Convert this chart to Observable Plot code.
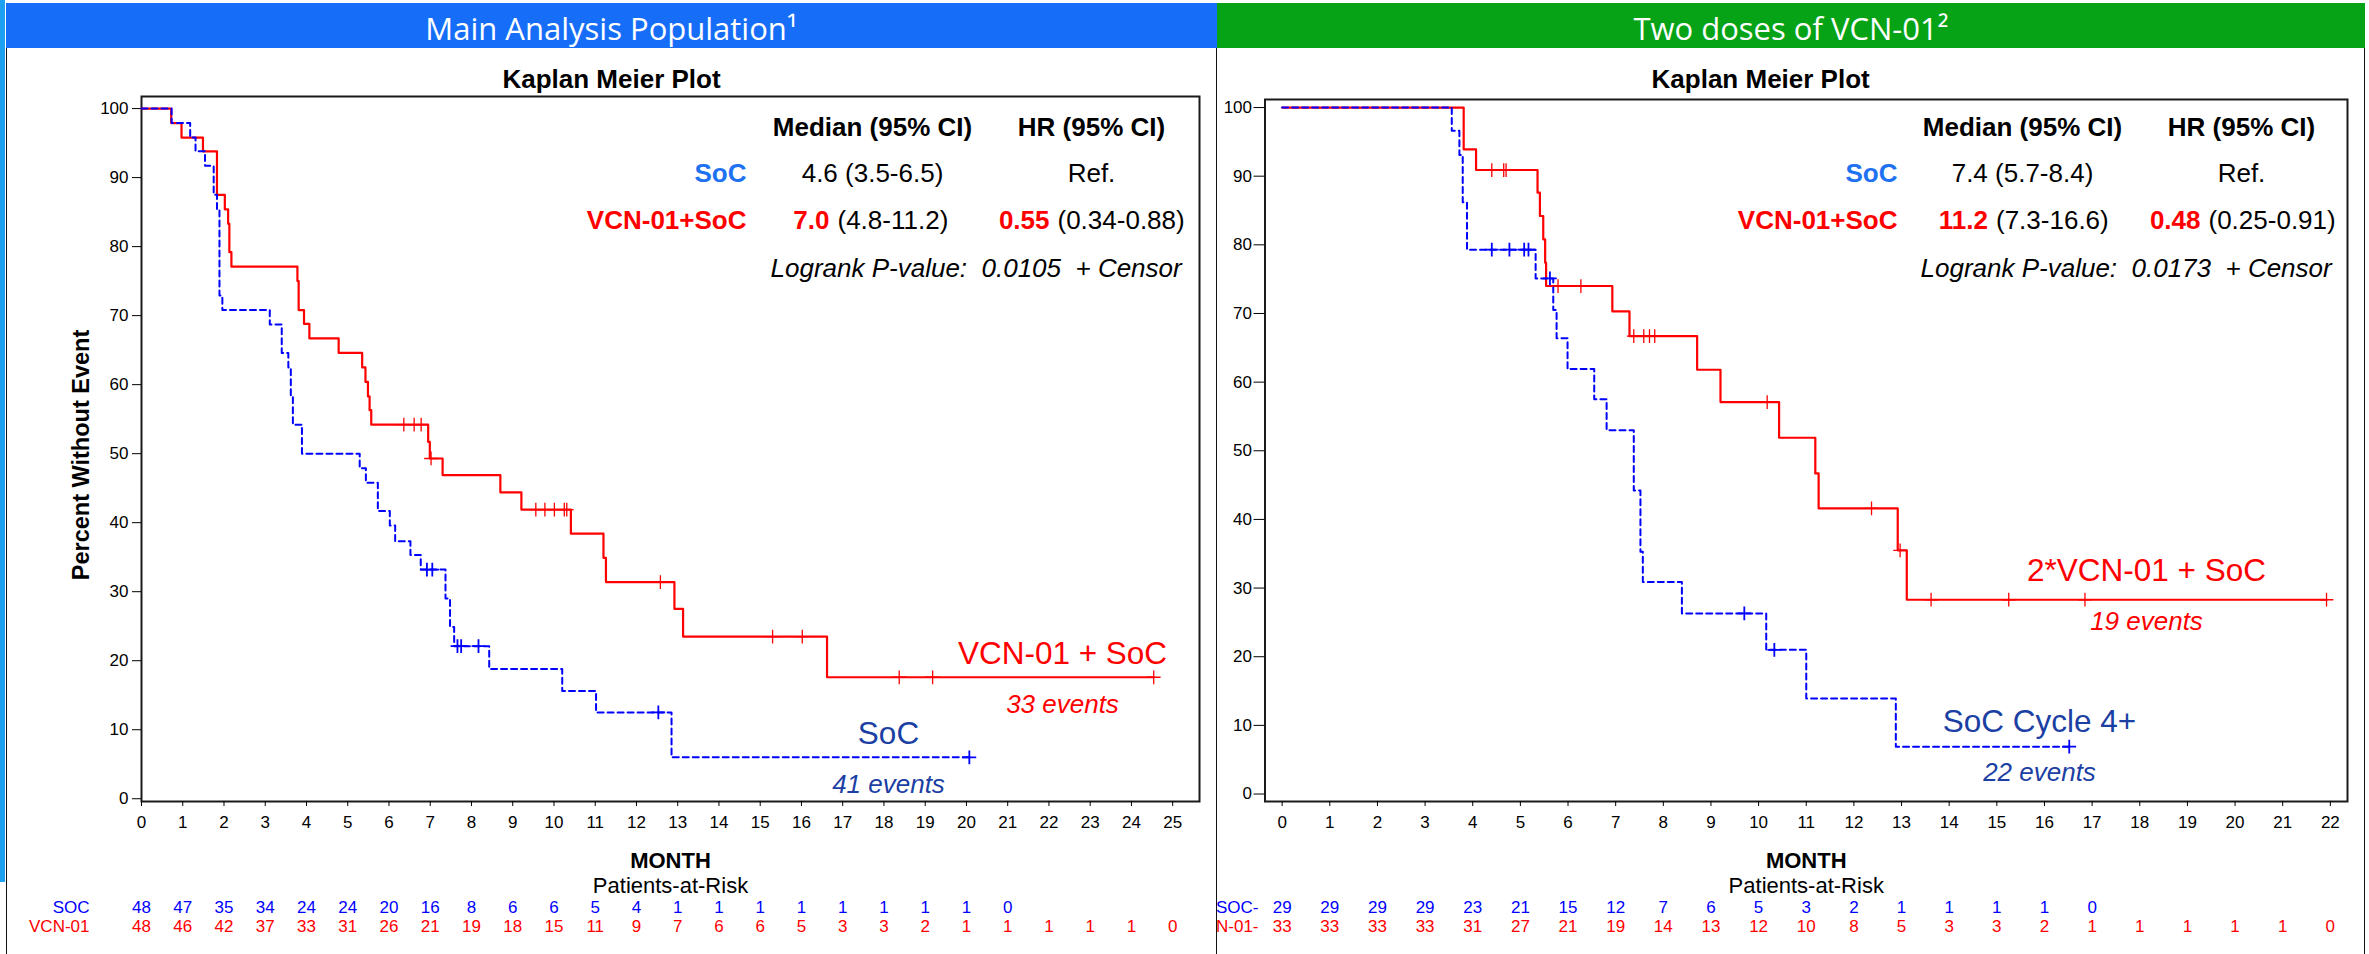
<!DOCTYPE html>
<html>
<head>
<meta charset="utf-8">
<script src="https://cdn.jsdelivr.net/npm/d3@7"></script>
<script src="https://cdn.jsdelivr.net/npm/@observablehq/plot@0.6"></script>
<style>
  html, body { margin: 0; padding: 0; background: #fff; }
  body { position: relative; width: 2369px; height: 954px; overflow: hidden; font-family: "Liberation Sans", Arial, sans-serif; }
  .hdr { position: absolute; top: 3px; height: 45px; color: #fff; font-family: "Open Sans", "Liberation Sans", sans-serif; font-size: 31px; text-align: center; line-height: 51px; overflow: hidden; white-space: nowrap; }
  .panel { position: absolute; top: 48px; height: 906px; }
  .vline { position: absolute; background: #111; width: 1px; z-index: 5; }
</style>
</head>
<body>
<div style="position:absolute;left:0;top:0;width:5px;height:882px;background:#1d9ff2;"></div>
<div class="hdr" id="hdrL" style="left:6px;width:1211px;background:#166ef8;"></div>
<div class="hdr" id="hdrR" style="left:1217px;width:1148px;background:#06a316;"></div>
<div class="panel" id="panelL" style="left:0;width:1216px;"></div>
<div class="panel" id="panelR" style="left:1216px;width:1153px;"></div>
<div class="vline" style="left:6px;top:48px;height:906px;"></div>
<div class="vline" style="left:1216px;top:48px;height:906px;"></div>
<div class="vline" style="left:2364px;top:48px;height:906px;"></div>
<script>
// ---------------- DATA ----------------
const headerLeft = "Main Analysis Population\u00b9";
const headerRight = "Two doses of VCN-01\u00b2";
const plotTitle = "Kaplan Meier Plot";
const yAxisTitle = "Percent Without Event";
const xAxisTitle = "MONTH";
const riskTitle = "Patients-at-Risk";

const yTicks = [0, 10, 20, 30, 40, 50, 60, 70, 80, 90, 100];
const xTicksL = [0,1,2,3,4,5,6,7,8,9,10,11,12,13,14,15,16,17,18,19,20,21,22,23,24,25];
const xTicksR = [0,1,2,3,4,5,6,7,8,9,10,11,12,13,14,15,16,17,18,19,20,21,22];

// Main analysis population: SoC (event times in months, survival % after event, censor times)
const socTimesL = [0.73,1.18,1.31,1.54,1.75,1.83,1.89,1.96,3.11,3.40,3.56,3.62,3.67,3.89,5.29,5.44,5.73,6.02,6.15,6.52,6.77,7.37,7.48,7.58,8.43,10.20,11.02,12.85];
const socSurvL  = [97.9,95.8,93.8,91.7,87.5,85.4,72.9,70.8,68.7,64.6,62.5,58.3,54.2,50.0,47.9,45.8,41.7,39.6,37.3,35.3,33.2,29.0,24.9,22.1,18.8,15.6,12.5,6.0];
const socCensL  = [6.92,7.05,7.66,7.75,8.17,12.53,20.07];
// Main analysis population: VCN-01 + SoC
const vcnTimesL = [0.72,0.97,1.49,1.83,2.02,2.10,2.13,2.18,3.78,3.81,3.94,4.07,4.78,5.35,5.43,5.49,5.53,5.57,6.95,6.99,7.30,8.70,9.21,10.41,11.20,11.26,12.92,13.13,16.62];
const vcnSurvL  = [97.9,95.8,93.8,87.5,85.4,83.3,79.2,77.1,75.0,70.8,68.8,66.7,64.6,62.5,60.4,58.3,56.3,54.2,51.7,49.3,46.9,44.4,41.9,38.4,34.9,31.4,27.5,23.5,17.6];
const vcnCensL  = [6.36,6.61,6.78,7.02,9.56,9.78,10.01,10.25,10.31,12.58,15.30,16.02,18.37,19.18,24.54];

// Two doses: SoC Cycle 4+
const socTimesR = [3.56,3.72,3.79,3.88,5.32,5.69,5.76,5.99,6.55,6.81,7.38,7.52,7.57,8.39,10.16,11.00,12.88];
const socSurvR  = [96.6,93.1,86.2,79.3,75.1,70.5,66.4,61.9,57.5,53.0,44.2,35.3,30.9,26.3,21.0,13.9,6.9];
const socCensR  = [4.40,4.77,5.08,5.17,5.62,9.70,10.33,16.52];
// Two doses: 2*VCN-01 + SoC
const vcnTimesR = [3.81,4.07,5.36,5.41,5.48,5.52,5.54,6.93,7.29,8.71,9.20,10.43,11.19,11.26,12.92,13.11];
const vcnSurvR  = [93.9,90.9,87.6,84.2,80.8,77.4,74.0,70.3,66.7,61.8,57.1,51.9,46.7,41.6,35.5,28.3];
const vcnCensR  = [4.40,4.65,4.70,5.79,6.27,7.38,7.59,7.71,7.82,10.18,12.37,12.97,13.62,15.25,16.85,21.92];

// Patients at risk (index = month)
const riskSocL = [48,47,35,34,24,24,20,16,8,6,6,5,4,1,1,1,1,1,1,1,1,0];
const riskVcnL = [48,46,42,37,33,31,26,21,19,18,15,11,9,7,6,6,5,3,3,2,1,1,1,1,1,0];
const riskSocR = [29,29,29,29,23,21,15,12,7,6,5,3,2,1,1,1,1,0];
const riskVcnR = [33,33,33,33,31,27,21,19,14,13,12,10,8,5,3,3,2,1,1,1,1,1,0];
const riskLabelsL = ["SOC", "VCN-01"];
const riskLabelsR = ["SOC-", "VCN-01-"];

// Summary tables
const tableHeaders = ["Median (95% CI)", "HR (95% CI)"];
const groupNames = ["SoC", "VCN-01+SoC"];
const medianSocL = "4.6 (3.5-6.5)", medianVcnL = ["7.0", "(4.8-11.2)"], hrVcnL = ["0.55", "(0.34-0.88)"];
const medianSocR = "7.4 (5.7-8.4)", medianVcnR = ["11.2", "(7.3-16.6)"], hrVcnR = ["0.48", "(0.25-0.91)"];
const hrRef = "Ref.";
const pValueL = "0.0105", pValueR = "0.0173";
const lineLabelsL = ["VCN-01 + SoC", "33 events", "SoC", "41 events"];
const lineLabelsR = ["2*VCN-01 + SoC", "19 events", "SoC Cycle 4+", "22 events"];

// ---------------- STYLE ----------------
const RED = "#ff0000", BLUE = "#0000ff", TBLUE = "#1e72f2", NAVY = "#1b3fa3";
const FONT = "'Liberation Sans', Arial, Helvetica, sans-serif";

document.getElementById("hdrL").textContent = headerLeft;
document.getElementById("hdrR").textContent = headerRight;

function steps(times, surv, cens) {
  const pts = [{t: 0, s: 100}];
  times.forEach((t, i) => pts.push({t, s: surv[i]}));
  pts.push({t: d3.max(cens), s: surv[surv.length - 1]});
  return pts;
}
function censorPts(times, surv, cens) {
  return cens.map(c => {
    let s = 100;
    times.forEach((t, i) => { if (t <= c) s = surv[i]; });
    return {t: c, s};
  });
}
const txt = (str, dx, dy, o = {}) =>
  Plot.text([str], {text: d => d, frameAnchor: "top-left", lineAnchor: "middle", dx, dy, fontSize: 26, fill: "#000", ...o});

function kmPlot(o) {
  const marks = [
    Plot.frame({stroke: "#1a1a1a", strokeWidth: 2}),
    Plot.axisY({ticks: yTicks, tickSize: o.yTickSize, tickPadding: o.yTickPadding, fontSize: 17, label: null}),
    Plot.axisX({ticks: o.xTicks, tickSize: 5, tickPadding: 9, fontSize: 17, label: null, tickFormat: d => String(d)}),
    Plot.line(steps(o.vcn[0], o.vcn[1], o.vcn[2]), {x: "t", y: "s", curve: "step-after", stroke: RED, strokeWidth: 2.2}),
    Plot.line(steps(o.soc[0], o.soc[1], o.soc[2]), {x: "t", y: "s", curve: "step-after", stroke: BLUE, strokeWidth: 2, strokeDasharray: "6,4"}),
    Plot.dot(censorPts(o.vcn[0], o.vcn[1], o.vcn[2]), {x: "t", y: "s", symbol: "plus", r: 4.5, stroke: RED, strokeWidth: 1.3}),
    Plot.dot(censorPts(o.soc[0], o.soc[1], o.soc[2]), {x: "t", y: "s", symbol: "plus", r: 4.5, stroke: BLUE, strokeWidth: 1.8}),
    // titles
    Plot.text([plotTitle], {text: d => d, frameAnchor: "top", lineAnchor: "middle", dx: o.titleDx, dy: o.titleDy, fontSize: 26, fontWeight: "bold"}),
    Plot.text([xAxisTitle], {text: d => d, frameAnchor: "bottom", lineAnchor: "middle", dy: 59, fontSize: 22, fontWeight: "bold"}),
    Plot.text([riskTitle], {text: d => d, frameAnchor: "bottom", lineAnchor: "middle", dy: 84, fontSize: 22}),
    // risk table
    Plot.text(o.riskSoc.map((n, i) => ({m: i, n})), {x: "m", text: d => String(d.n), frameAnchor: "bottom", lineAnchor: "middle", dy: 106, fontSize: 17, fill: BLUE}),
    Plot.text(o.riskVcn.map((n, i) => ({m: i, n})), {x: "m", text: d => String(d.n), frameAnchor: "bottom", lineAnchor: "middle", dy: 125, fontSize: 17, fill: RED}),
    Plot.text([o.riskLabels[0]], {text: d => d, frameAnchor: "bottom-left", lineAnchor: "middle", dx: o.riskLabelDx, dy: 106, textAnchor: "end", fontSize: 17, fill: BLUE}),
    Plot.text([o.riskLabels[1]], {text: d => d, frameAnchor: "bottom-left", lineAnchor: "middle", dx: o.riskLabelDx, dy: 125, textAnchor: "end", fontSize: 17, fill: RED}),
    // summary table
    txt(tableHeaders[0], o.tb.c1, o.tb.r0, {textAnchor: "middle", fontWeight: "bold"}),
    txt(tableHeaders[1], o.tb.c2, o.tb.r0, {textAnchor: "middle", fontWeight: "bold"}),
    txt(groupNames[0], o.tb.nameEnd, o.tb.r1, {textAnchor: "end", fontWeight: "bold", fill: TBLUE}),
    txt(o.medSoc, o.tb.c1, o.tb.r1, {textAnchor: "middle"}),
    txt(hrRef, o.tb.c2, o.tb.r1, {textAnchor: "middle"}),
    txt(groupNames[1], o.tb.nameEnd, o.tb.r2, {textAnchor: "end", fontWeight: "bold", fill: RED}),
    txt(o.medVcn[0], o.tb.medSplit, o.tb.r2, {textAnchor: "end", fontWeight: "bold", fill: RED}),
    txt(o.medVcn[1], o.tb.medSplit + 8, o.tb.r2, {textAnchor: "start"}),
    txt(o.hrVcn[0], o.tb.hrSplit, o.tb.r2, {textAnchor: "end", fontWeight: "bold", fill: RED}),
    txt(o.hrVcn[1], o.tb.hrSplit + 8, o.tb.r2, {textAnchor: "start"}),
    txt("Logrank P-value:\u00a0\u00a0" + o.pval + "\u00a0\u00a0+ Censor", o.tb.pStart, o.tb.r3, {textAnchor: "start", fontStyle: "italic"}),
    // curve labels
    txt(o.lineLabels[0], o.ll.vx, o.ll.vy, {textAnchor: "middle", fontSize: 31.5, fill: RED}),
    txt(o.lineLabels[1], o.ll.vx, o.ll.vy + 51, {textAnchor: "middle", fontStyle: "italic", fill: RED}),
    txt(o.lineLabels[2], o.ll.sx, o.ll.sy, {textAnchor: "middle", fontSize: 31.5, fill: NAVY}),
    txt(o.lineLabels[3], o.ll.sx, o.ll.sy + 51, {textAnchor: "middle", fontStyle: "italic", fill: NAVY})
  ];
  if (o.yTitle) marks.push(Plot.text([yAxisTitle], {text: d => d, frameAnchor: "left", textAnchor: "middle", lineAnchor: "middle", rotate: -90, dx: -60, dy: 6, fontSize: 23.5, fontWeight: "bold"}));
  return Plot.plot({
    width: o.width, height: 906,
    marginLeft: o.ml, marginRight: o.mr, marginTop: o.mt, marginBottom: 153,
    x: {domain: o.xDomain},
    y: {domain: o.yDomain},
    style: {fontFamily: FONT, fontSize: "17px", overflow: "hidden", background: "transparent", color: "#000"},
    marks
  });
}

document.getElementById("panelL").append(kmPlot({
  width: 1216, ml: 141, mr: 17, mt: 48,
  xDomain: [0, 25.65], yDomain: [-0.4, 101.75],
  xTicks: xTicksL, yTickSize: 9, yTickPadding: 4,
  soc: [socTimesL, socSurvL, socCensL], vcn: [vcnTimesL, vcnSurvL, vcnCensL],
  riskSoc: riskSocL, riskVcn: riskVcnL, riskLabels: riskLabelsL, riskLabelDx: -52,
  titleDx: -59, titleDy: -17, yTitle: true,
  medSoc: medianSocL, medVcn: medianVcnL, hrVcn: hrVcnL, pval: pValueL,
  tb: {c1: 731, c2: 950, nameEnd: 605, medSplit: 688, hrSplit: 908, pStart: 629, r0: 30.7, r1: 77, r2: 124, r3: 172},
  lineLabels: lineLabelsL, ll: {vx: 921, vy: 557, sx: 747, sy: 637}
}));

document.getElementById("panelR").append(kmPlot({
  width: 1153, ml: 48.5, mr: 22, mt: 51,
  xDomain: [-0.36, 22.36], yDomain: [-1.09, 101.17],
  xTicks: xTicksR, yTickSize: 11, yTickPadding: 2,
  soc: [socTimesR, socSurvR, socCensR], vcn: [vcnTimesR, vcnSurvR, vcnCensR],
  riskSoc: riskSocR, riskVcn: riskVcnR, riskLabels: riskLabelsR, riskLabelDx: -6.5,
  titleDx: -45.6, titleDy: -20, yTitle: false,
  medSoc: medianSocR, medVcn: medianVcnR, hrVcn: hrVcnR, pval: pValueR,
  tb: {c1: 757.5, c2: 976.5, nameEnd: 632.5, medSplit: 723, hrSplit: 935.5, pStart: 655.5, r0: 27.7, r1: 74, r2: 121, r3: 169},
  lineLabels: lineLabelsR, ll: {vx: 881.5, vy: 471, sx: 774.5, sy: 622}
}));
</script>
</body>
</html>
